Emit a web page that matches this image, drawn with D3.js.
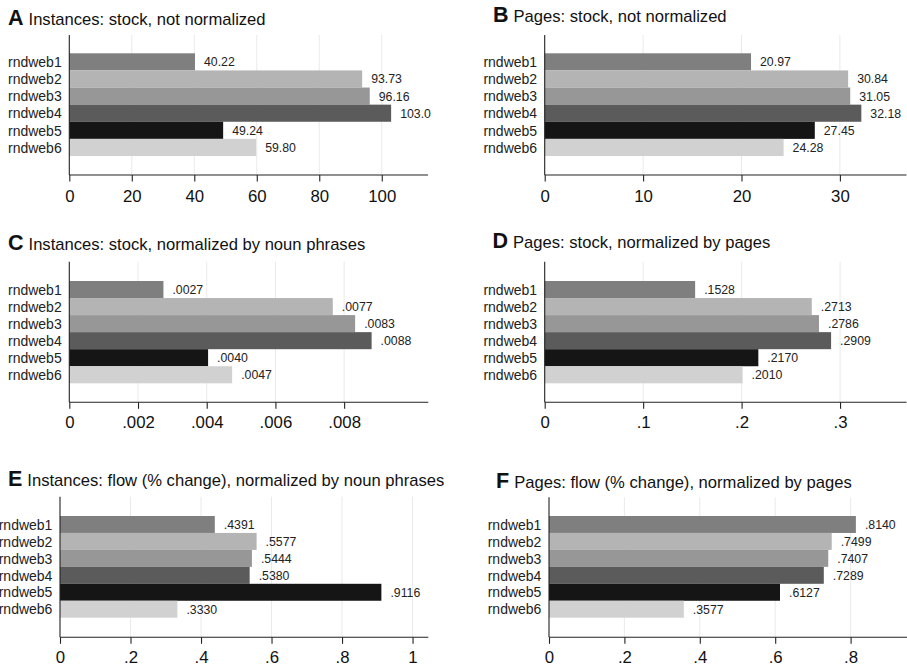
<!DOCTYPE html>
<html>
<head>
<meta charset="utf-8">
<script src="https://cdn.jsdelivr.net/npm/d3@7"></script>
<style>
  html, body { margin: 0; padding: 0; background: #fff; }
  svg { display: block; font-family: "Liberation Sans", Arial, Helvetica, sans-serif; }
</style>
</head>
<body>
<svg id="chart" width="907" height="668"></svg>
<script>
// ---------------- data ----------------
const categories = ["rndweb1", "rndweb2", "rndweb3", "rndweb4", "rndweb5", "rndweb6"];
const barColors = ["#7f7f7f", "#b4b4b4", "#979797", "#5b5b5b", "#151515", "#d1d1d1"];

const instancesStock     = [40.22, 93.73, 96.16, 103.0, 49.24, 59.80];
const pagesStock         = [20.97, 30.84, 31.05, 32.18, 27.45, 24.28];
const instancesStockNorm = [0.00274, 0.00767, 0.00832, 0.00880, 0.00404, 0.00474];
const pagesStockNorm     = [0.1528, 0.2713, 0.2786, 0.2909, 0.2170, 0.2010];
const instancesFlowNorm  = [0.4391, 0.5577, 0.5444, 0.5380, 0.9116, 0.3330];
const pagesFlowNorm      = [0.8140, 0.7499, 0.7407, 0.7289, 0.6127, 0.3577];

const ticksA = [0, 20, 40, 60, 80, 100];
const ticksB = [0, 10, 20, 30];
const ticksC = [0, 0.002, 0.004, 0.006, 0.008];
const ticksD = [0, 0.1, 0.2, 0.3];
const ticksE = [0, 0.2, 0.4, 0.6, 0.8, 1];
const ticksF = [0, 0.2, 0.4, 0.6, 0.8];

const letters = ["A", "B", "C", "D", "E", "F"];
const titles = [
  "Instances: stock, not normalized",
  "Pages: stock, not normalized",
  "Instances: stock, normalized by noun phrases",
  "Pages: stock, normalized by pages",
  "Instances: flow (% change), normalized by noun phrases",
  "Pages: flow (% change), normalized by pages"
];

// ---------------- formats ----------------
const stripZero = s => s.replace(/^0\./, ".");
const fmtSig4 = d3.format(".4r");
const fmtDec4 = v => stripZero(d3.format(".4f")(v));
const tickFmt = v => stripZero(String(v));

// ---------------- layout ----------------
const panels = [
  { values: instancesStock,     ticks: ticksA, max: 114.8,  fmt: fmtSig4,
    x0: 69.3,  x1: 428,   axisTop: 35,    axisBottom: 175,   barTop: 53.3, barBottom: 156,
    titleX: 8,   titleY: 25,    tickY: 202 },
  { values: pagesStock,         ticks: ticksB, max: 36.77,  fmt: fmtSig4,
    x0: 544.7, x1: 906.5, axisTop: 35,    axisBottom: 175,   barTop: 53.3, barBottom: 156,
    titleX: 493, titleY: 22.4,  tickY: 202 },
  { values: instancesStockNorm, ticks: ticksC, max: 0.01045, fmt: fmtDec4,
    x0: 69.3,  x1: 428.3, axisTop: 261.7, axisBottom: 402.3, barTop: 281,  barBottom: 383.3,
    titleX: 8,   titleY: 250,   tickY: 428.5 },
  { values: pagesStockNorm,     ticks: ticksD, max: 0.3675, fmt: fmtDec4,
    x0: 544.7, x1: 906.5, axisTop: 261.7, axisBottom: 402.3, barTop: 281,  barBottom: 383.3,
    titleX: 492.5, titleY: 247.7, tickY: 428.5 },
  { values: instancesFlowNorm,  ticks: ticksE, max: 1.0447, fmt: fmtDec4,
    x0: 60,    x1: 428.3, axisTop: 496.7, axisBottom: 637.3, barTop: 516,  barBottom: 617.7,
    titleX: 8,   titleY: 485.7, tickY: 662.7 },
  { values: pagesFlowNorm,      ticks: ticksF, max: 0.9496, fmt: fmtDec4,
    x0: 549,   x1: 907,   axisTop: 497.3, axisBottom: 637.3, barTop: 516,  barBottom: 617.7,
    titleX: 496, titleY: 488.3, tickY: 662.7 }
];

const svg = d3.select("#chart");

panels.forEach((p, i) => {
  const g = svg.append("g");
  const x = d3.scaleLinear().domain([0, p.max]).range([p.x0, p.x1]);
  const y = d3.scaleBand().domain(categories).range([p.barTop, p.barBottom]).padding(0);

  // gridlines
  g.selectAll("line.grid").data(p.ticks.filter(t => t !== 0)).join("line")
    .attr("class", "grid")
    .attr("x1", d => x(d)).attr("x2", d => x(d))
    .attr("y1", p.axisTop).attr("y2", p.axisBottom)
    .attr("stroke", "#eaeaea").attr("stroke-width", 1);

  // bars
  g.selectAll("rect.bar").data(p.values).join("rect")
    .attr("class", "bar")
    .attr("x", x(0))
    .attr("y", (d, j) => y(categories[j]))
    .attr("width", d => x(d) - x(0))
    .attr("height", y.bandwidth())
    .attr("fill", (d, j) => barColors[j]);

  // value labels
  g.selectAll("text.val").data(p.values).join("text")
    .attr("class", "val")
    .attr("x", d => x(d) + 9)
    .attr("y", (d, j) => y(categories[j]) + y.bandwidth() / 2 + 4.5)
    .attr("font-size", 12.3)
    .attr("fill", "#222")
    .text(d => p.fmt(d));

  // category labels
  g.selectAll("text.cat").data(categories).join("text")
    .attr("class", "cat")
    .attr("x", p.x0 - 7.6)
    .attr("y", d => y(d) + y.bandwidth() / 2 + 5.2)
    .attr("text-anchor", "end")
    .attr("font-size", 14)
    .attr("fill", "#222")
    .text(d => d);

  // y axis line
  g.append("line")
    .attr("x1", p.x0).attr("x2", p.x0)
    .attr("y1", p.axisTop).attr("y2", p.axisBottom)
    .attr("stroke", "#222").attr("stroke-width", 1.1);

  // x axis via d3
  const axis = d3.axisBottom(x).tickValues(p.ticks).tickFormat(tickFmt)
    .tickSize(6.5).tickSizeOuter(0).tickPadding(0);
  const ax = g.append("g").attr("transform", `translate(0,${p.axisBottom})`).call(axis);
  ax.select(".domain").attr("stroke", "#222").attr("stroke-width", 1.1)
    .attr("d", `M${p.x0},0H${p.x1}`);
  ax.selectAll(".tick line").attr("stroke", "#222").attr("stroke-width", 1.1);
  ax.selectAll(".tick text")
    .attr("y", p.tickY - p.axisBottom).attr("dy", null)
    .attr("font-size", 16.8)
    .attr("font-family", "Liberation Sans, Arial, Helvetica, sans-serif")
    .attr("fill", "#111");

  // title
  const t = g.append("text").attr("x", p.titleX).attr("y", p.titleY).attr("fill", "#111");
  t.append("tspan").attr("font-weight", "bold").attr("font-size", 21.5).text(letters[i]);
  t.append("tspan").attr("font-size", 16.6).attr("dx", 5).text(titles[i]);
});
</script>
</body>
</html>
